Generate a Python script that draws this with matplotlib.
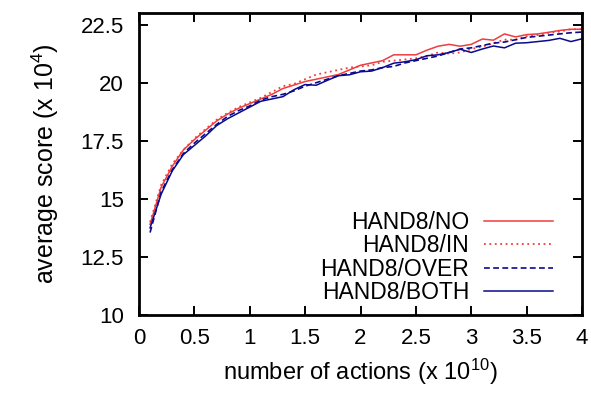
import matplotlib
matplotlib.use("Agg")
import matplotlib.pyplot as plt
import numpy as np

plt.rcParams['font.family'] = ['Liberation Sans', 'DejaVu Sans']
plt.rcParams['mathtext.fontset'] = 'custom'
plt.rcParams['mathtext.rm'] = 'Liberation Sans'
plt.rcParams['mathtext.it'] = 'Liberation Sans'

# number of actions (x 10^10)
actions = [0.1, 0.2, 0.3, 0.4, 0.5, 0.6, 0.7, 0.8, 0.9, 1.0,
           1.1, 1.2, 1.3, 1.4, 1.5, 1.6, 1.7, 1.8, 1.9, 2.0,
           2.1, 2.2, 2.3, 2.4, 2.5, 2.6, 2.7, 2.8, 2.9, 3.0,
           3.1, 3.2, 3.3, 3.4, 3.5, 3.6, 3.7, 3.8, 3.9, 4.0]

# average score (x 10^4)
score_no = [13.9, 15.5, 16.4, 17.1, 17.55, 17.95, 18.35, 18.65, 18.9, 19.1,
            19.3, 19.5, 19.75, 19.9, 20.05, 20.15, 20.25, 20.35, 20.55, 20.75,
            20.85, 20.95, 21.2, 21.2, 21.2, 21.4, 21.57, 21.65, 21.57, 21.65,
            21.88, 21.83, 22.1, 21.97, 22.07, 22.1, 22.17, 22.25, 22.3, 22.3]
score_in = [14.0, 15.6, 16.5, 17.1, 17.6, 18.0, 18.4, 18.7, 18.95, 19.15,
            19.35, 19.6, 19.85, 19.95, 20.15, 20.35, 20.45, 20.55, 20.65, 20.7,
            20.75, 20.9, 20.95, 21.0, 21.05, 21.15, 21.3, 21.25, 21.3, 21.45,
            21.55, 21.7, 21.85, 21.85, 22.0, 22.05, 22.15, 22.2, 22.3, 22.3]
score_over = [13.55, 15.3, 16.25, 16.95, 17.4, 17.8, 18.2, 18.55, 18.8, 19.0,
              19.25, 19.4, 19.5, 19.65, 19.85, 20.0, 20.15, 20.3, 20.4, 20.5,
              20.55, 20.65, 20.7, 20.85, 20.95, 21.05, 21.15, 21.3, 21.45, 21.5,
              21.6, 21.7, 21.75, 21.85, 21.95, 22.0, 22.05, 22.1, 22.15, 22.18]
score_both = [13.75, 15.2, 16.2, 16.9, 17.3, 17.7, 18.15, 18.45, 18.7, 18.95,
              19.2, 19.3, 19.4, 19.7, 19.92, 19.89, 20.1, 20.3, 20.34, 20.47,
              20.5, 20.65, 20.84, 20.9, 20.99, 21.16, 21.2, 21.3, 21.44, 21.3,
              21.45, 21.58, 21.5, 21.7, 21.72, 21.77, 21.82, 21.91, 21.77, 21.89]

RED = '#f03c3c'
BLUE = '#0a0a8c'

fig = plt.figure(figsize=(5.91, 3.94), dpi=100)
ax = fig.add_axes([139 / 591, 79 / 394, 443 / 591, 302 / 394])

ax.plot(actions, score_no, color=RED, lw=1.1, label='HAND8/NO')
ax.plot(actions, score_in, color=RED, lw=1.3, linestyle=(0, (1, 2)), label='HAND8/IN')
ax.plot(actions, score_over, color=BLUE, lw=1.2, linestyle=(0, (3.5, 2)), label='HAND8/OVER')
ax.plot(actions, score_both, color=BLUE, lw=1.1, label='HAND8/BOTH')

ax.set_xlim(0, 4)
ax.set_ylim(10, 23.0)
ax.set_xticks(np.arange(0, 4.01, 0.5))
ax.set_xticklabels(['0', '0.5', '1', '1.5', '2', '2.5', '3', '3.5', '4'])
ax.set_yticks([10, 12.5, 15, 17.5, 20, 22.5])
ax.set_yticklabels(['10', '12.5', '15', '17.5', '20', '22.5'])

for s in ax.spines.values():
    s.set_linewidth(2.0)
ax.tick_params(direction='in', length=6.5, width=1.4, top=True, right=True,
               labelsize=16)
ax.tick_params(axis='x', pad=9)
ax.tick_params(axis='y', pad=11)

ax.set_xlabel('number of actions (x 10$^{10}$)', fontsize=17, labelpad=6)
ax.set_ylabel('average score (x 10$^{4}$)', fontsize=18, labelpad=14)

leg = ax.legend(loc='lower right', bbox_to_anchor=(414 / 443, 11 / 302),
                frameon=False, markerfirst=False, fontsize=16.5,
                handlelength=3.0, handletextpad=0.65, labelspacing=0.02,
                borderpad=0, borderaxespad=0)
for t in leg.get_texts():
    t.set_ha('right')

fig.savefig('out.png', dpi=100)
